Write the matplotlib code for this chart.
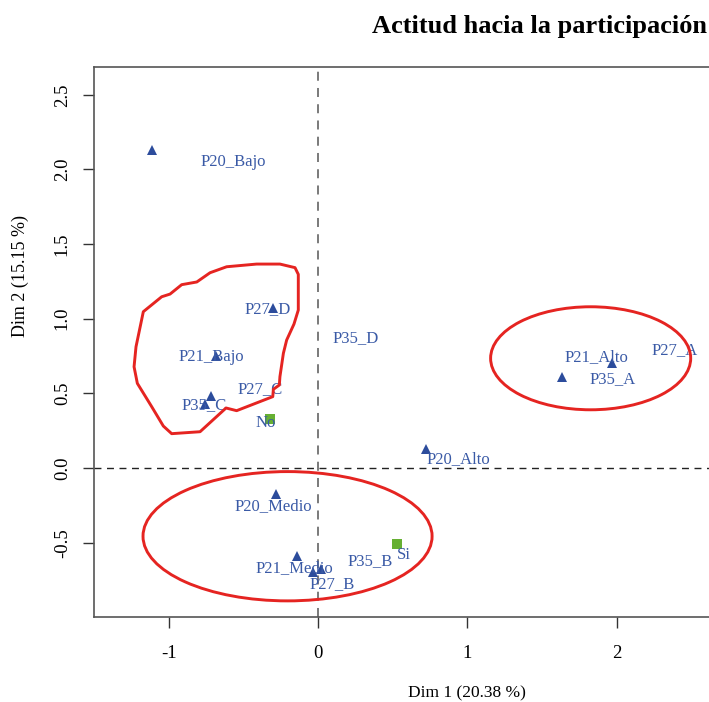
import numpy as np
import matplotlib
matplotlib.use("Agg")
import matplotlib.pyplot as plt
from matplotlib.patches import Ellipse, Polygon

plt.rcParams['font.family'] = ['Liberation Serif', 'DejaVu Serif']

# ---- data (MCA coordinates) ----
categories = ["P20_Bajo", "P27_D", "P35_D", "P21_Bajo", "P35_C", "P27_C",
              "P20_Medio", "P21_Medio", "P27_B", "P35_B", "P20_Alto",
              "P21_Alto", "P35_A", "P27_A"]
dim1 = [-1.112, -0.303, np.nan, -0.683, -0.719, -0.757,
        -0.281, -0.141, -0.031, 0.020, 0.721,
        1.971, 1.636, 2.75]
dim2 = [2.130, 1.074, np.nan, 0.750, 0.482, 0.431,
        -0.174, -0.587, -0.697, -0.674, 0.127,
        0.701, 0.607, 0.76]
label_x = [-0.569, -0.335, 0.253, -0.712, -0.764, -0.388,
           -0.299, -0.159, 0.096, 0.346, 0.940,
           1.864, 1.974, 2.39]
label_y = [2.050, 1.065, 0.869, 0.741, 0.422, 0.527,
           -0.257, -0.672, -0.779, -0.623, 0.058,
           0.741, 0.594, 0.790]

sup_categories = ["No", "Si"]
sup_dim1 = [-0.321, 0.529]
sup_dim2 = [0.328, -0.507]
sup_label_x = [-0.348, 0.578]
sup_label_y = [0.303, -0.585]

# hand-drawn annotation shapes (data units)
ellipse_right = dict(center=(1.826, 0.735), width=1.34, height=0.69)
ellipse_bottom = dict(center=(-0.204, -0.457), width=1.936, height=0.866)
freeform_x = [-1.170, -1.047, -0.991, -0.913, -0.812, -0.723, -0.612, -0.411,
              -0.255, -0.154, -0.132, -0.132, -0.161, -0.210, -0.232, -0.255,
              -0.259, -0.299, -0.303, -0.545, -0.616, -0.790, -0.980, -1.036,
              -1.114, -1.210, -1.232, -1.219]
freeform_y = [1.047, 1.147, 1.165, 1.228, 1.246, 1.308, 1.348, 1.366,
              1.366, 1.342, 1.297, 1.058, 0.964, 0.857, 0.768, 0.612,
              0.556, 0.527, 0.478, 0.384, 0.402, 0.243, 0.230, 0.281,
              0.411, 0.567, 0.678, 0.812]

xticks = [-1, 0, 1, 2]
yticks = [-0.5, 0.0, 0.5, 1.0, 1.5, 2.0, 2.5]
title = "Actitud hacia la participación"
xlabel = "Dim 1 (20.38 %)"
ylabel = "Dim 2 (15.15 %)"

# ---- figure ----
W, H = 709, 702
fig = plt.figure(figsize=(W / 100, H / 100), dpi=100)
ax_left, ax_right, ax_top, ax_bottom = 94, 840, 67.3, 617.3
ax = fig.add_axes([ax_left / W, 1 - ax_bottom / H,
                   (ax_right - ax_left) / W, (ax_bottom - ax_top) / H])
ax.set_xlim(-1.5003, 3.496)
ax.set_ylim(-1.0, 2.684)

blue_mark = '#2C4C9C'
blue_text = '#3A5AA6'
green = '#66B032'
red = '#E52421'

ax.axvline(0, color='#707070', lw=1.3, ls=(0, (5, 4)), zorder=1)
ax.axhline(0, color='#222222', lw=1.0, ls=(0, (5, 4)), zorder=1)

ax.plot(dim1, dim2, ls='none', marker='^', ms=6.5, color=blue_mark,
        markeredgewidth=0, zorder=3)
for name, lx, ly in zip(categories, label_x, label_y):
    ax.text(lx, ly, name, color=blue_text, fontsize=12, ha='center',
            va='center', zorder=4)

ax.plot(sup_dim1, sup_dim2, ls='none', marker='s', ms=6.5, color=green,
        markeredgewidth=0, zorder=3)
for name, lx, ly in zip(sup_categories, sup_label_x, sup_label_y):
    ax.text(lx, ly, name, color=blue_text, fontsize=12, ha='center',
            va='center', zorder=4)

for e in (ellipse_right, ellipse_bottom):
    ax.add_patch(Ellipse(e['center'], e['width'], e['height'], fill=False,
                         edgecolor=red, lw=2.1, zorder=5))
ax.add_patch(Polygon(np.column_stack([freeform_x, freeform_y]), closed=True,
                     fill=False, edgecolor=red, lw=2.1, joinstyle='round',
                     zorder=5))

ax.set_xticks(xticks)
ax.set_xticklabels([f"{t:g}" for t in xticks])
ax.set_yticks(yticks)
ax.set_yticklabels([f"{t:.1f}" for t in yticks], rotation=90, va='center')
ax.tick_params(axis='both', direction='out', length=7.7, width=1,
               color='#333333', labelsize=13.5)
ax.tick_params(axis='x', pad=12)
ax.tick_params(axis='y', pad=9)
for s in ax.spines.values():
    s.set_color('#555555')
    s.set_linewidth(1.2)

fig.text(467 / W, 1 - 693 / H, xlabel, fontsize=12.5, ha='center', va='center')
fig.text(20 / W, 1 - 276 / H, ylabel, fontsize=13, ha='center', va='center',
         rotation=90)
fig.text(372 / W, 1 - 33 / H, title, fontsize=19, fontweight='bold',
         ha='left', va='baseline')

fig.savefig('out.png', dpi=100)
